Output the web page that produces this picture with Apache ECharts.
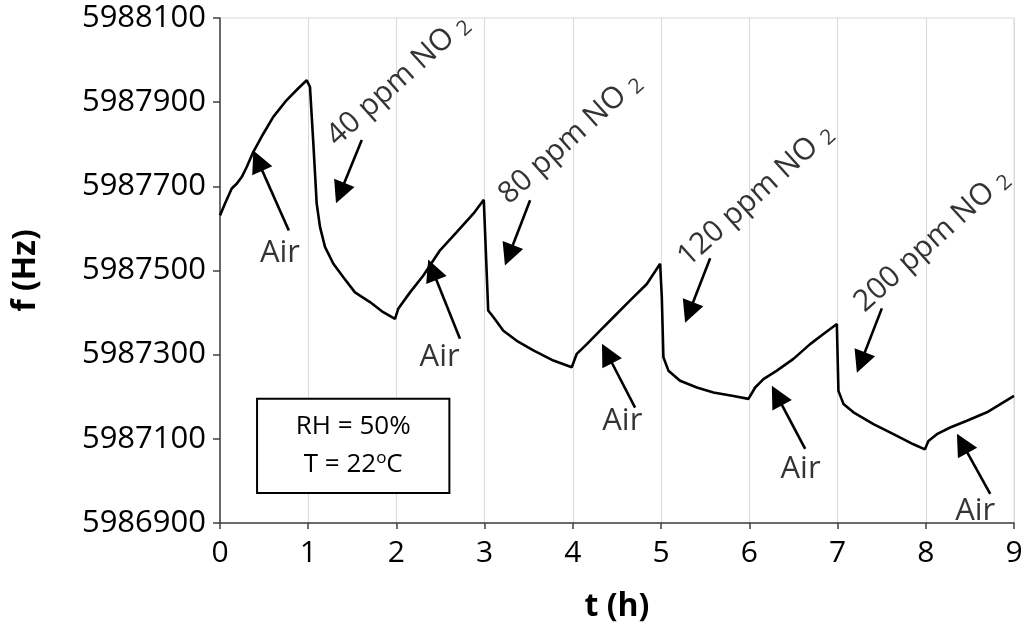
<!DOCTYPE html>
<html>
<head>
<meta charset="utf-8">
<script src="https://cdn.jsdelivr.net/npm/echarts@6/dist/echarts.min.js"></script>
<style>
  html, body { margin: 0; padding: 0; background: #fff; }
  #chart { width: 1024px; height: 631px; }
</style>
</head>
<body>
<div id="chart"></div>
<script>
// trace: time (h) / frequency (Hz)
const timeH = [
  0, 0.057, 0.133, 0.189, 0.246, 0.303, 0.378, 0.491, 0.604, 0.756, 0.888, 0.983,
  1.02, 1.058, 1.096, 1.134, 1.19, 1.285, 1.398, 1.53, 1.70, 1.85, 1.984,
  2.02, 2.154, 2.305, 2.494, 2.683, 2.872, 2.99,
  3.04, 3.10, 3.212, 3.364, 3.552, 3.779, 3.987,
  4.044, 4.158, 4.308, 4.459, 4.649, 4.838, 4.989,
  5.008, 5.026, 5.083, 5.215, 5.405, 5.593, 5.82, 5.99,
  6.066, 6.16, 6.312, 6.5, 6.689, 6.84, 6.992,
  7.01, 7.067, 7.18, 7.407, 7.634, 7.86, 7.99,
  8.03, 8.126, 8.277, 8.466, 8.693, 9.0
];
const freqHz = [
  5987631, 5987659, 5987695, 5987706, 5987722, 5987746, 5987782, 5987825, 5987865, 5987905, 5987933, 5987952,
  5987936, 5987802, 5987659, 5987603, 5987556, 5987516, 5987484, 5987448, 5987425, 5987401, 5987385,
  5987409, 5987448, 5987488, 5987548, 5987591, 5987635, 5987668,
  5987405, 5987389, 5987357, 5987333, 5987310, 5987286, 5987270,
  5987302, 5987325, 5987357, 5987389, 5987429, 5987468, 5987516,
  5987436, 5987294, 5987262, 5987238, 5987222, 5987210, 5987202, 5987195,
  5987222, 5987242, 5987262, 5987290, 5987325, 5987349, 5987373,
  5987214, 5987183, 5987163, 5987135, 5987111, 5987087, 5987075,
  5987095, 5987111, 5987127, 5987143, 5987163, 5987202
];

const xTicks = [0, 1, 2, 3, 4, 5, 6, 7, 8, 9];
const yTicks = [5986900, 5987100, 5987300, 5987500, 5987700, 5987900, 5988100];

// annotations
const gasLabels = ['40 ppm NO', '80 ppm NO', '120 ppm NO', '200 ppm NO'];
const gasLabelT = [2.02, 3.97, 6.07, 8.07];
const gasLabelF = [5987952, 5987814, 5987679, 5987571];

const airLabelT = [0.68, 2.49, 4.56, 6.58, 8.56];
const airLabelF = [5987540, 5987293, 5987143, 5987029, 5986929];

const arrowTailT = [0.78, 1.607, 2.72, 3.515, 4.705, 5.556, 6.633, 7.502, 8.73];
const arrowTailF = [5987595, 5987810, 5987338, 5987667, 5987174, 5987529, 5987076, 5987410, 5986969];
const arrowTipT = [0.378, 1.315, 2.36, 3.23, 4.33, 5.272, 6.255, 7.219, 8.353];
const arrowTipF = [5987785, 5987660, 5987526, 5987512, 5987326, 5987376, 5987226, 5987257, 5987112];

// RH / T note box corners
const noteT = [0.42, 2.6];
const noteF = [5987195, 5986971];

const FONT = 'Open Sans';
const HEAD = 22; // arrow head size, px

const trace = timeH.map((t, i) => [t, freqHz[i]]);

const chart = echarts.init(document.getElementById('chart'));

const lineSeries = {
  type: 'line',
  data: trace,
  symbol: 'none',
  silent: true,
  lineStyle: { color: '#000', width: 2.6 },
  markLine: {
    silent: true,
    symbol: ['none', 'triangle'],
    symbolSize: HEAD,
    label: { show: false },
    itemStyle: { color: '#000' },
    lineStyle: { color: '#000', width: 2.6, type: 'solid' },
    emphasis: { disabled: true },
    data: []
  }
};

chart.setOption({
  animation: false,
  backgroundColor: '#fff',
  grid: {
    left: 220,
    right: 10,
    top: 18,
    bottom: 108,
    outerBoundsMode: 'none',
    show: true,
    borderColor: '#d9d9d9',
    borderWidth: 1
  },
  xAxis: {
    type: 'value',
    min: xTicks[0],
    max: xTicks[xTicks.length - 1],
    interval: 1,
    name: 't (h)',
    nameLocation: 'middle',
    nameGap: 68,
    nameTextStyle: { fontFamily: FONT, fontSize: 32, fontWeight: 'bold', color: '#000' },
    axisLine: { onZero: false, lineStyle: { color: '#404040', width: 1.5 } },
    axisTick: { show: true, length: 6, lineStyle: { color: '#404040', width: 1.5 } },
    axisLabel: { fontFamily: FONT, fontSize: 30, color: '#000', margin: 15 },
    splitLine: { show: true, lineStyle: { color: '#d9d9d9', width: 1 } }
  },
  yAxis: {
    type: 'value',
    min: yTicks[0],
    max: yTicks[yTicks.length - 1],
    name: 'f (Hz)',
    nameLocation: 'middle',
    nameGap: 178,
    nameTextStyle: { fontFamily: FONT, fontSize: 32, fontWeight: 'bold', color: '#000' },
    axisLine: { show: true, onZero: false, lineStyle: { color: '#404040', width: 1.5 } },
    axisTick: { show: true, length: 7, customValues: yTicks, lineStyle: { color: '#404040', width: 1.5 } },
    axisLabel: {
      fontFamily: FONT, fontSize: 31, color: '#000', margin: 14,
      customValues: yTicks,
      formatter: v => String(v)
    },
    splitLine: { show: false }
  },
  series: [
    lineSeries,
    {
      type: 'scatter',
      silent: true,
      symbolSize: 1,
      itemStyle: { color: 'rgba(0,0,0,0)' },
      data: gasLabelT.map((t, i) => [t, gasLabelF[i]]),
      label: {
        show: true,
        position: 'inside',
        rotate: 42,
        align: 'center',
        verticalAlign: 'middle',
        formatter: p => '{a|' + gasLabels[p.dataIndex] + ' }{s|2}',
        rich: {
          a: { fontFamily: FONT, fontSize: 30, color: '#000' },
          s: { fontFamily: FONT, fontSize: 21, color: '#000', padding: [12, 0, 0, 0] }
        }
      }
    },
    {
      type: 'scatter',
      silent: true,
      symbolSize: 1,
      itemStyle: { color: 'rgba(0,0,0,0)' },
      data: airLabelT.map((t, i) => [t, airLabelF[i]]),
      label: {
        show: true,
        position: 'inside',
        formatter: 'Air',
        fontFamily: FONT,
        fontSize: 31,
        color: '#000'
      },
      markArea: {
        silent: true,
        itemStyle: { color: '#fff', borderColor: '#000', borderWidth: 2 },
        label: {
          show: true,
          position: 'inside',
          formatter: '{t|RH = 50%}\n{t|T = 22}{o|o}{t|C}',
          rich: {
            t: { fontFamily: FONT, fontSize: 26, color: '#000', lineHeight: 38 },
            o: { fontFamily: FONT, fontSize: 17, color: '#000', lineHeight: 38, padding: [0, 0, 14, 0] }
          }
        },
        data: [[{ coord: [noteT[0], noteF[0]] }, { coord: [noteT[1], noteF[1]] }]]
      }
    }
  ]
});

// arrow heads are centred on the line end, so end each line half a head short of the tip
const arrows = arrowTailT.map((t, i) => {
  const tail = chart.convertToPixel({ gridIndex: 0 }, [t, arrowTailF[i]]);
  const tip = chart.convertToPixel({ gridIndex: 0 }, [arrowTipT[i], arrowTipF[i]]);
  const dx = tail[0] - tip[0], dy = tail[1] - tip[1];
  const len = Math.sqrt(dx * dx + dy * dy);
  const k = (HEAD / 2) / len;
  const end = chart.convertFromPixel({ gridIndex: 0 }, [tip[0] + dx * k, tip[1] + dy * k]);
  return [{ coord: [t, arrowTailF[i]] }, { coord: end }];
});

chart.setOption({ series: [{ markLine: { data: arrows } }] });
</script>
</body>
</html>
